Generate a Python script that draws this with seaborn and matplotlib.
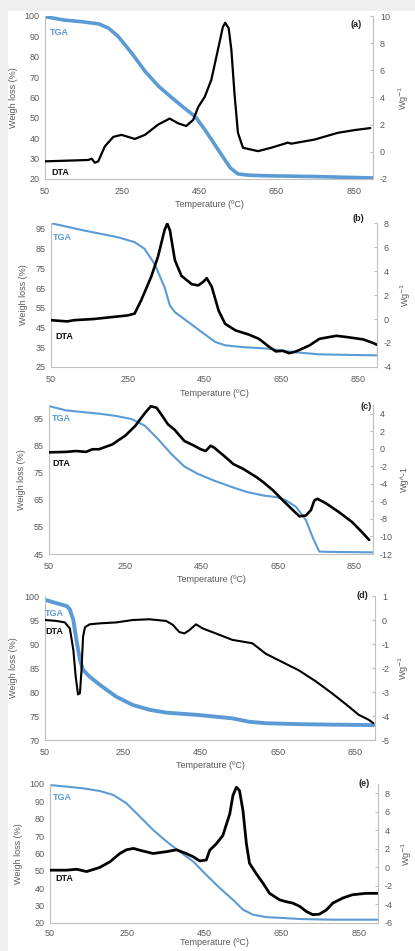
import matplotlib
matplotlib.use("Agg")
import matplotlib.pyplot as plt
from matplotlib.patches import Rectangle
import seaborn as sns

# panel (a)
tga_a_t = [50, 100, 145, 190, 215, 240, 275, 310, 345, 380, 410, 440, 465, 500, 530, 550, 575, 620, 750, 900]
tga_a_w = [99.7, 98.0, 97.2, 96.1, 94.0, 89.9, 81.7, 72.7, 65.4, 59.7, 55.0, 50.5, 44.0, 34.0, 25.5, 22.5, 21.9, 21.6, 21.2, 20.5]
dta_a_t = [50, 162, 171, 179, 188, 205, 227, 248, 283, 309, 343, 373, 395, 416, 434, 447, 464, 481, 498, 511,
           517, 526, 533, 541, 550, 563, 602, 636, 671, 679, 688, 748, 809, 852, 893]
dta_a_d = [-0.7, -0.6, -0.5, -0.8, -0.7, 0.4, 1.1, 1.25, 0.95, 1.25, 2.0, 2.45, 2.1, 1.9, 2.35, 3.3, 4.05, 5.3, 7.5, 9.2,
           9.5, 9.1, 7.5, 4.3, 1.4, 0.3, 0.05, 0.3, 0.6, 0.68, 0.6, 0.9, 1.4, 1.6, 1.75]

# panel (b)
tga_b_t = [50, 136, 224, 268, 294, 320, 346, 360, 373, 408, 443, 478, 504, 548, 618, 680, 750, 900]
tga_b_w = [97.9, 94.2, 90.8, 88.3, 84.9, 77.3, 65.5, 56.2, 52.8, 47.8, 42.7, 37.7, 36.0, 35.1, 34.3, 32.6, 31.4, 30.9]
dta_b_t = [50, 92, 110, 162, 206, 250, 268, 285, 311, 329, 346, 353, 360, 373, 390, 417, 434, 447, 456, 469,
           487, 504, 531, 566, 592, 618, 636, 654, 671, 689, 724, 750, 794, 820, 864, 890, 900]
dta_b_d = [-0.1, -0.2, -0.1, 0.0, 0.15, 0.3, 0.45, 1.55, 3.5, 5.2, 7.4, 7.95, 7.4, 4.9, 3.6, 2.9, 2.8, 3.1, 3.4, 2.7,
           0.7, -0.4, -0.95, -1.3, -1.65, -2.3, -2.7, -2.65, -2.85, -2.7, -2.2, -1.65, -1.4, -1.5, -1.7, -2.0, -2.15]

# panel (c)
tga_c_t = [50, 95, 138, 181, 224, 267, 302, 336, 371, 405, 440, 483, 526, 569, 612, 647, 672, 698, 724, 741, 759, 780, 900]
tga_c_w = [99.6, 98.0, 97.4, 96.8, 96.0, 94.8, 92.3, 87.4, 81.9, 77.3, 74.6, 72.1, 69.9, 67.9, 66.6, 66.0, 64.8, 62.4,
           57.5, 51.4, 45.9, 45.8, 45.6]
dta_c_t = [50, 95, 121, 147, 164, 181, 216, 250, 276, 302, 317, 332, 345, 362, 379, 405, 431, 448, 461, 474, 483,
           509, 534, 560, 595, 612, 638, 664, 690, 707, 724, 737, 746, 754, 776, 810, 845, 871, 890]
dta_c_d = [-0.4, -0.35, -0.25, -0.35, -0.05, -0.05, 0.5, 1.5, 2.6, 4.1, 4.85, 4.7, 3.9, 2.8, 2.2, 0.9, 0.35, -0.05,
           -0.25, 0.35, 0.15, -0.8, -1.75, -2.3, -3.25, -3.8, -4.75, -5.9, -7.0, -7.7, -7.6, -7.0, -5.9, -5.7,
           -6.2, -7.2, -8.35, -9.5, -10.4]

# panel (d)
tga_d_t = [50, 80, 106, 114, 123, 131, 140, 148, 165, 191, 234, 276, 319, 362, 447, 533, 576, 618, 704, 789, 896]
tga_d_w = [99.2, 98.5, 97.9, 97.2, 95.0, 90.8, 86.7, 84.6, 83.2, 81.5, 79.0, 77.3, 76.3, 75.7, 75.2, 74.5, 73.8,
           73.5, 73.3, 73.2, 73.1]
dta_d_t = [50, 80, 101, 114, 123, 129, 135, 140, 144, 148, 153, 165, 191, 234, 276, 319, 362, 379, 396, 409, 422,
           439, 456, 490, 533, 559, 584, 601, 618, 661, 704, 747, 789, 832, 858, 883, 896]
dta_d_d = [0.0, -0.04, -0.1, -0.35, -1.25, -2.35, -3.1, -3.05, -2.1, -0.7, -0.3, -0.18, -0.14, -0.1, 0.0, 0.03,
           -0.04, -0.2, -0.5, -0.56, -0.42, -0.18, -0.35, -0.56, -0.83, -0.9, -0.97, -1.18, -1.4, -1.75, -2.1,
           -2.55, -3.05, -3.6, -3.95, -4.15, -4.3]

# panel (e)
tga_e_t = [50, 93, 136, 179, 214, 248, 283, 317, 352, 386, 421, 455, 490, 524, 550, 576, 610, 653, 697, 783, 899]
tga_e_w = [99.4, 98.5, 97.5, 96.0, 93.7, 88.9, 81.2, 73.6, 66.9, 61.1, 55.4, 47.7, 40.1, 33.4, 27.7, 24.8, 23.4,
           22.9, 22.3, 21.9, 21.9]
dta_e_t = [50, 93, 119, 145, 179, 205, 231, 248, 266, 283, 317, 352, 378, 403, 421, 438, 455, 464, 481, 498, 516,
           524, 533, 541, 550, 559, 567, 584, 602, 619, 645, 662, 679, 697, 714, 731, 748, 766, 783, 809, 834,
           869, 899]
dta_e_d = [-0.3, -0.3, -0.2, -0.45, 0.0, 0.6, 1.5, 1.9, 2.05, 1.85, 1.5, 1.7, 1.9, 1.5, 1.15, 0.7, 0.8, 1.85, 2.55,
           3.45, 5.8, 7.75, 8.65, 8.3, 6.15, 2.55, 0.45, -0.65, -1.7, -2.8, -3.5, -3.7, -3.85, -4.2, -4.75, -5.1,
           -5.05, -4.6, -3.85, -3.3, -2.95, -2.8, -2.8]

x_ticks = [50, 250, 450, 650, 850]
BLUE = '#5b9bd5'
GREY = '#bfbfbf'
TXT = '#595959'
FS = 6.5
W, H = 415, 951


def px_box(left, right, top, bottom):
    return [left / W, 1 - bottom / H, (right - left) / W, (bottom - top) / H]


def panel(fig, box, tga, dta, lylim, lyticks, rylim, ryticks, rlabel, tag, tag_pos,
          tga_pos, dta_pos, lw_tga, lw_dta, xpad=6, xlabelpad=3):
    ax = fig.add_axes(box)
    ax2 = ax.twinx()
    sns.lineplot(x=tga[0], y=tga[1], color=BLUE, lw=lw_tga, ax=ax, sort=False)
    sns.lineplot(x=dta[0], y=dta[1], color='black', lw=lw_dta, ax=ax2, sort=False)
    ax.set_xlim(50, 900)
    ax.set_xticks(x_ticks)
    ax.set_ylim(*lylim)
    ax.set_yticks(lyticks)
    ax2.set_ylim(*rylim)
    ax2.set_yticks(ryticks)
    for a in (ax, ax2):
        for s in a.spines.values():
            s.set_color(GREY)
            s.set_linewidth(0.8)
        a.spines['top'].set_visible(False)
        a.set_facecolor('none')
        a.grid(False)
    ax.spines['right'].set_visible(False)
    ax2.spines['left'].set_visible(False)
    ax2.spines['bottom'].set_visible(False)
    ax.tick_params(axis='y', length=0, labelsize=FS, labelcolor=TXT, pad=4)
    ax.tick_params(axis='x', length=0, labelsize=FS, labelcolor=TXT, pad=xpad)
    ax2.tick_params(axis='y', direction='in', length=2.5, color=GREY,
                    labelsize=FS, labelcolor=TXT, pad=5)
    ax.set_xlabel('Temperature (ºC)', fontsize=FS, color=TXT, labelpad=xlabelpad)
    ax.set_ylabel('Weigh loss (%)', fontsize=FS, color=TXT, labelpad=5)
    ax2.set_ylabel(rlabel, fontsize=FS, color=TXT, rotation=90, labelpad=5)
    ax.text(tag_pos[0], tag_pos[1], tag, transform=ax.transAxes, ha='right', va='center',
            fontsize=FS, fontweight='bold', color='#222222')
    ax.text(tga_pos[0], tga_pos[1], 'TGA', transform=ax.transAxes, ha='left', va='center',
            fontsize=FS, fontweight='bold', color=BLUE)
    ax.text(dta_pos[0], dta_pos[1], 'DTA', transform=ax.transAxes, ha='left', va='center',
            fontsize=FS, fontweight='bold', color='#111111')
    return ax, ax2


def main():
    sns.set_style('white')
    plt.rcParams['font.family'] = ['Liberation Sans', 'DejaVu Sans']
    plt.rcParams['axes.unicode_minus'] = False
    fig = plt.figure(figsize=(W / 100, H / 100), dpi=100)
    fig.patch.set_facecolor('#efefef')
    fig.patches.append(Rectangle((8 / W, 0), 1, 1 - 11 / H, transform=fig.transFigure,
                                 facecolor='white', edgecolor='none', zorder=-1))

    panel(fig, px_box(45, 373, 16, 179), (tga_a_t, tga_a_w), (dta_a_t, dta_a_d),
          (20, 100), range(20, 101, 10), (-2, 10), range(-2, 11, 2), 'Wg$^{-1}$',
          '(a)', (0.967, 0.95), (0.015, 0.896), (0.02, 0.04), 2.6, 1.6)
    panel(fig, px_box(51, 377, 223, 367), (tga_b_t, tga_b_w), (dta_b_t, dta_b_d),
          (25, 98), range(25, 96, 10), (-4, 8), range(-4, 9, 2), 'Wg$^{-1}$',
          '(b)', (0.96, 1.03), (0.006, 0.90), (0.012, 0.21), 1.5, 1.9)
    panel(fig, px_box(49, 373, 405, 554), (tga_c_t, tga_c_w), (dta_c_t, dta_c_d),
          (45, 100), range(45, 96, 10), (-12, 5), range(-12, 5, 2), 'Wg^-1',
          '(c)', (0.995, 0.99), (0.01, 0.91), (0.01, 0.61), 1.5, 1.9)
    panel(fig, px_box(45, 375, 596, 740), (tga_d_t, tga_d_w), (dta_d_t, dta_d_d),
          (70, 100), range(70, 101, 5), (-5, 1), range(-5, 2, 1), 'Wg$^{-1}$',
          '(d)', (0.98, 1.0), (0.0, 0.88), (0.0, 0.75), 2.8, 1.5)
    panel(fig, px_box(50, 378, 784, 923), (tga_e_t, tga_e_w), (dta_e_t, dta_e_d),
          (20, 100), range(20, 101, 10), (-6, 9), range(-6, 9, 2), 'Wg$^{-1}$',
          '(e)', (0.976, 1.0), (0.01, 0.906), (0.015, 0.32), 1.5, 2.0,
          xpad=4, xlabelpad=0.5)

    fig.savefig('out.png', dpi=100, facecolor=fig.get_facecolor())


if __name__ == "__main__":
    main()
